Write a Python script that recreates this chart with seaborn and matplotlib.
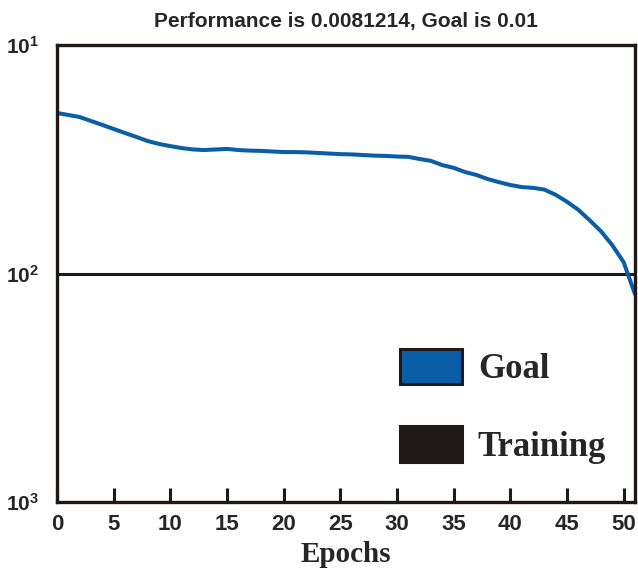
"""
Aim: training performance vs epochs (log scale) with goal line
"""

import numpy as np
import pandas as pd
import matplotlib
matplotlib.use("Agg")
import matplotlib.pyplot as plt
from matplotlib.patches import Patch
import seaborn as sns

# values
epochs = list(range(0, 52))
performance = [0.0504, 0.0494, 0.0484, 0.0465, 0.0447, 0.0429, 0.0412, 0.0396,
               0.0380, 0.0369, 0.0361, 0.0354, 0.0349, 0.0347, 0.0349, 0.0351,
               0.0347, 0.0345, 0.0344, 0.0342, 0.0340, 0.0340, 0.0339, 0.0337,
               0.0335, 0.0333, 0.0332, 0.0330, 0.0328, 0.0327, 0.0325, 0.0324,
               0.0317, 0.0311, 0.0298, 0.0290, 0.0278, 0.0270, 0.0259, 0.0251,
               0.0244, 0.0239, 0.0237, 0.0233, 0.0221, 0.0206, 0.0190, 0.0171,
               0.0153, 0.0133, 0.0112, 0.0081214]
goal = 0.01
title = "Performance is 0.0081214, Goal is 0.01"
xticks = [0, 5, 10, 15, 20, 25, 30, 35, 40, 45, 50]
yticks = [1e-1, 1e-2, 1e-3]
ytick_labels = [r"$\mathbf{10^{1}}$", r"$\mathbf{10^{2}}$", r"$\mathbf{10^{3}}$"]
legend_labels = ["Goal", "Training"]

blue = "#0a5ea8"
black = "#1f1a17"

sns.set_style("white")
plt.rcParams["font.family"] = ["Liberation Sans", "DejaVu Sans"]
plt.rcParams["mathtext.fontset"] = "custom"
plt.rcParams["mathtext.bf"] = "Liberation Sans:bold"
plt.rcParams["mathtext.rm"] = "Liberation Sans"

df = pd.DataFrame({"epoch": epochs, "perf": performance})

fig = plt.figure(figsize=(6.38, 5.72), dpi=100)
ax = fig.add_axes([57/638, 70/572, 578/638, 457/572])

sns.lineplot(data=df, x="epoch", y="perf", ax=ax, color=blue, linewidth=2.9)
ax.axhline(goal, color=black, linewidth=2.2, zorder=1)

ax.set_yscale("log")
ax.set_ylim(1e-3, 1e-1)
ax.set_xlim(0, 51)
ax.set_xticks(xticks)
ax.set_xticklabels([str(t) for t in xticks], fontsize=16, fontweight="bold")
ax.set_yticks(yticks)
ax.set_yticklabels(ytick_labels, fontsize=15)
ax.yaxis.set_minor_locator(matplotlib.ticker.NullLocator())
ax.tick_params(axis="x", direction="in", length=10, width=2.2, color=black,
               pad=9, bottom=True, top=False)
ax.tick_params(axis="y", length=0, pad=13, left=False)

for s in ax.spines.values():
    s.set_linewidth(2.4)
    s.set_color(black)

ax.set_title(title, fontsize=15, fontweight="bold", pad=13)
ax.set_xlabel("Epochs", fontsize=21, fontweight="bold",
              family=["Liberation Serif", "DejaVu Serif"], labelpad=4)
ax.set_ylabel("")

handles = [Patch(facecolor=blue, edgecolor=black, linewidth=2.2),
           Patch(facecolor=black, edgecolor=black, linewidth=2.2)]
ax.legend(handles, legend_labels, loc="upper left", bbox_to_anchor=(0.593, 0.335),
          frameon=False, handlelength=1.8, handleheight=1.2, handletextpad=0.45,
          labelspacing=1.15, borderpad=0, borderaxespad=0,
          prop={"family": ["Liberation Serif", "DejaVu Serif"], "weight": "bold", "size": 25})

fig.savefig("out.png", dpi=100)
